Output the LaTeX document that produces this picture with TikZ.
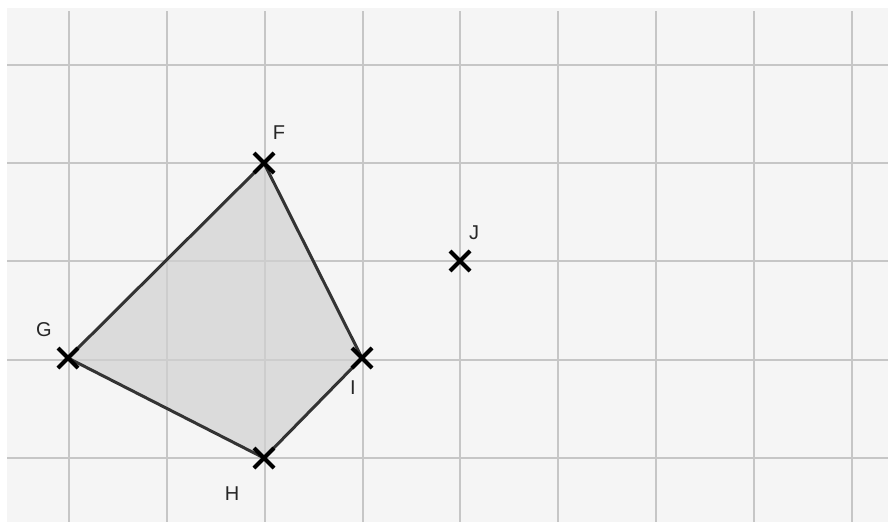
\documentclass[tikz,border=0pt]{standalone}
\usepackage{fontspec}
\setmainfont{Liberation Sans}
\begin{document}
\begin{tikzpicture}[x=1pt,y=-1pt,
  gridline/.style={draw=gray!45,line width=2pt},
  edge/.style={draw=black!80,line width=3pt},
  cross/.style={draw=black,line width=4pt},
  lbl/.style={font=\fontsize{20}{22}\selectfont,text=black!85,inner sep=0pt}]
\useasboundingbox (0,0) rectangle (888,522);
\fill[white] (0,0) rectangle (888,522);
\fill[black!4] (7,8) rectangle (888,522);
\foreach \x in {69,167,265,363,460,558,656,754,852}
  \draw[gridline] (\x,11) -- (\x,522);
\foreach \y in {65,163,261,360,458}
  \draw[gridline] (7,\y) -- (888,\y);
\coordinate (F) at (264,163);
\coordinate (G) at (68,358);
\coordinate (H) at (264,458);
\coordinate (I) at (362,358);
\coordinate (J) at (460,261);
\fill[black!18,opacity=0.7] (F) -- (I) -- (H) -- (G) -- cycle;
\draw[edge,line join=round] (F) -- (I) -- (H) -- (G) -- cycle;
\foreach \p in {F,G,H,I,J}
  \draw[cross] ([shift={(-10,-10)}]\p) -- ([shift={(10,10)}]\p)
               ([shift={(-10,10)}]\p) -- ([shift={(10,-10)}]\p);
\node[lbl] (lF) at (279,133) {F};
\node[lbl] (lG) at (44,330) {G};
\node[lbl] (lH) at (232,494) {H};
\node[lbl] (lI) at (353,388) {I};
\node[lbl] (lJ) at (474,233) {J};
\end{tikzpicture}
\end{document}
